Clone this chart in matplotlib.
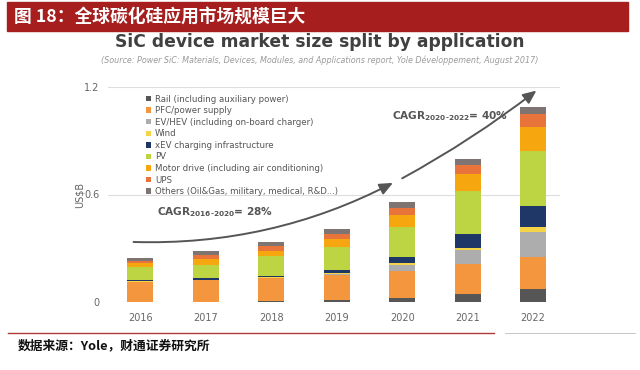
import numpy as np
import matplotlib.pyplot as plt
from matplotlib.patches import Rectangle
from matplotlib.lines import Line2D

plt.rcParams['font.family'] = ['DejaVu Sans', 'Noto Sans CJK SC']

# Data (US$B)
years = ['2016', '2017', '2018', '2019', '2020', '2021', '2022']
labels = ['Rail (including auxiliary power)', 'PFC/power supply',
          'EV/HEV (including on-board charger)', 'Wind',
          'xEV charging infrastructure', 'PV',
          'Motor drive (including air conditioning)', 'UPS',
          'Others (Oil&Gas, military, medical, R&D...)']
rail = [0.002, 0.002, 0.003, 0.010, 0.022, 0.047, 0.075]
pfc = [0.110, 0.120, 0.130, 0.140, 0.149, 0.164, 0.177]
ev_hev = [0.002, 0.002, 0.003, 0.006, 0.037, 0.078, 0.140]
wind = [0.001, 0.001, 0.002, 0.004, 0.010, 0.015, 0.024]
xev = [0.008, 0.009, 0.009, 0.018, 0.035, 0.078, 0.119]
pv = [0.070, 0.074, 0.112, 0.130, 0.168, 0.238, 0.307]
motor = [0.026, 0.034, 0.028, 0.045, 0.065, 0.097, 0.136]
ups = [0.012, 0.019, 0.024, 0.024, 0.041, 0.047, 0.071]
others = [0.015, 0.024, 0.026, 0.032, 0.030, 0.034, 0.037]
series = [rail, pfc, ev_hev, wind, xev, pv, motor, ups, others]
colors = ['#565656', '#F4963D', '#ADADAD', '#F5D547', '#1E3766',
          '#BDD542', '#F6A70F', '#E8733B', '#7E7472']

fig = plt.figure(figsize=(6.4, 3.7), dpi=100)

# red header band
fig.patches.append(Rectangle((7 / 640, 1 - 31 / 370), 621 / 640, 29 / 370,
                             transform=fig.transFigure, color='#A61E1E', zorder=0))
fig.text(14 / 640, 1 - 17 / 370, '图 18：全球碳化硅应用市场规模巨大',
         family=['Noto Sans CJK SC'], fontsize=12.8, fontweight='bold',
         color='white', va='center')

fig.text(0.5, 1 - 42 / 370, 'SiC device market size split by application',
         fontsize=12.3, fontweight='bold', color='#404040', ha='center', va='center')
fig.text(0.5, 1 - 60 / 370,
         '(Source: Power SiC: Materials, Devices, Modules, and Applications report, '
         'Yole Développement, August 2017)',
         fontsize=5.8, style='italic', color='#9a9a9a', ha='center', va='center')

ax = fig.add_axes([108 / 640, 1 - 302 / 370, 452 / 640, 215 / 370])
x = np.arange(len(years))
bottom = np.zeros(len(years))
for vals, lab, c in zip(series, labels, colors):
    ax.bar(x, vals, width=0.4, bottom=bottom, color=c, label=lab, zorder=3)
    bottom += np.array(vals)

ax.set_xlim(-0.49, 6.41)
ax.set_ylim(0, 1.2)
ax.set_yticks([0, 0.6, 1.2])
ax.set_yticklabels(['0', '0.6', '1.2'])
ax.set_xticks(x)
ax.set_xticklabels(years)
ax.tick_params(length=0, labelsize=7, colors='#666666', pad=8)
ax.tick_params(axis='y', pad=6)
ax.grid(axis='y', color='#dddddd', linewidth=0.8, zorder=0)
for s in ax.spines.values():
    s.set_visible(False)
ax.set_ylabel('US$B', fontsize=7, color='#666666', labelpad=0)

leg = ax.legend(loc='upper left', bbox_to_anchor=(0.075, 0.985), frameon=False,
                fontsize=6.2, labelcolor='#555555', handlelength=0.6,
                handleheight=0.6, handletextpad=0.4, labelspacing=0.3,
                borderpad=0)

# CAGR arrows
arrow = dict(arrowstyle='-|>,head_length=0.8,head_width=0.35', color='#555555',
             lw=1.4, shrinkA=0, shrinkB=0)
ax.annotate('', xy=(3.86, 0.665), xytext=(-0.1, 0.335),
            arrowprops=dict(connectionstyle='arc3,rad=0.13', **arrow))
ax.annotate('', xy=(6.05, 1.18), xytext=(4.0, 0.69),
            arrowprops=dict(connectionstyle='arc3,rad=0.04', **arrow))
ax.text(0.26, 0.50, r'CAGR$_{\mathbf{2016‐2020}}$= 28%', fontsize=7.6,
        fontweight='bold', color='#555555', va='center')
ax.text(3.84, 1.04, r'CAGR$_{\mathbf{2020‐2022}}$= 40%', fontsize=7.6,
        fontweight='bold', color='#555555', va='center')

# footer
fig.add_artist(Line2D([8 / 640, 494 / 640], [1 - 333 / 370] * 2,
                      transform=fig.transFigure, color='#B03A3A', lw=1))
fig.add_artist(Line2D([505 / 640, 635 / 640], [1 - 333 / 370] * 2,
                      transform=fig.transFigure, color='#bbbbbb', lw=0.6))
fig.text(18 / 640, 1 - 346 / 370, '数据来源：Yole，财通证券研究所',
         family=['Noto Sans CJK SC'], fontsize=9.2, fontweight='bold',
         color='#111111', va='center')

fig.savefig('out.png', dpi=100)
